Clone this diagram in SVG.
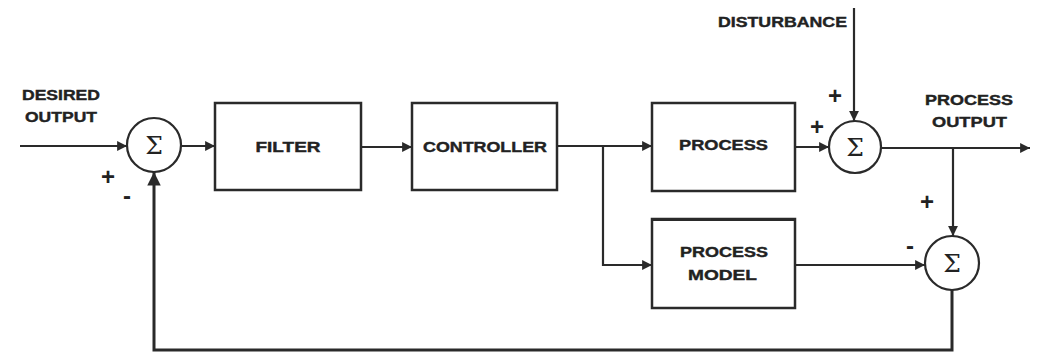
<svg xmlns="http://www.w3.org/2000/svg" width="1043" height="353" viewBox="0 0 1043 353">
<style>
.box{fill:#fff;stroke:#2a2a2a;stroke-width:2.5}
.sum{fill:#fff;stroke:#2a2a2a;stroke-width:2.2}
.wire{fill:none;stroke:#2a2a2a;stroke-width:2.2}
.lbl{font-family:"Liberation Sans",Arial,sans-serif;font-weight:bold;font-size:15px;fill:#222;stroke:#222;stroke-width:0.4}
.sig{font-family:"Liberation Sans",Arial,sans-serif;font-weight:bold;font-size:24px;fill:#222}
.sgm{font-family:"DejaVu Serif","Liberation Serif",serif;font-size:25px;fill:#222}
</style>
<defs>
<marker id="ah" viewBox="0 0 10 10" refX="10" refY="5" markerWidth="4.5" markerHeight="4.5" orient="auto" markerUnits="strokeWidth">
<path d="M0,0 L10,5 L0,10 z" fill="#2a2a2a"/>
</marker>
</defs>
<rect width="1043" height="353" fill="#fff"/>
<g id="connectors">
<line class="wire" x1="20" y1="146" x2="127" y2="146" marker-end="url(#ah)"/>
<line class="wire" x1="181" y1="146" x2="215" y2="146" marker-end="url(#ah)"/>
<line class="wire" x1="361" y1="147" x2="412" y2="147" marker-end="url(#ah)"/>
<line class="wire" x1="557" y1="146" x2="652" y2="146" marker-end="url(#ah)"/>
<polyline class="wire" points="603,146 603,265 652,265" marker-end="url(#ah)"/>
<line class="wire" x1="795" y1="147" x2="829" y2="147" marker-end="url(#ah)"/>
<line class="wire" x1="854" y1="8" x2="854" y2="121" marker-end="url(#ah)"/>
<line class="wire" x1="881" y1="148" x2="1030" y2="148" marker-end="url(#ah)"/>
<line class="wire" x1="953" y1="148" x2="953" y2="236" marker-end="url(#ah)"/>
<line class="wire" x1="795" y1="265" x2="925" y2="265" marker-end="url(#ah)"/>
<polyline class="wire" style="stroke-width:3" points="952,290 952,350 154,350 154,172" marker-end="url(#ah)"/>
</g>
<g id="desired-output"><text class="lbl" x="22" y="100" textLength="78" lengthAdjust="spacingAndGlyphs">DESIRED</text><text class="lbl" x="25" y="122" textLength="72" lengthAdjust="spacingAndGlyphs">OUTPUT</text></g>
<g id="sum1"><circle class="sum" cx="154" cy="145" r="27"/><text class="sgm" x="154" y="154" text-anchor="middle">Σ</text>
<text class="sig" x="108" y="185" text-anchor="middle">+</text><text class="sig" x="127" y="204" text-anchor="middle">-</text></g>
<g id="filter"><rect class="box" x="215" y="103" width="146" height="87"/><text class="lbl" x="288" y="152" text-anchor="middle" textLength="65" lengthAdjust="spacingAndGlyphs">FILTER</text></g>
<g id="controller"><rect class="box" x="412" y="103" width="145" height="87"/><text class="lbl" x="485" y="152" text-anchor="middle" textLength="124" lengthAdjust="spacingAndGlyphs">CONTROLLER</text></g>
<g id="process"><rect class="box" x="652" y="103" width="143" height="88"/><text class="lbl" x="723.5" y="150" text-anchor="middle" textLength="89" lengthAdjust="spacingAndGlyphs">PROCESS</text></g>
<g id="process-model"><rect class="box" x="652" y="219" width="143" height="89"/><line x1="652" y1="220" x2="795" y2="220" stroke="#2a2a2a" stroke-width="2"/><text class="lbl" x="724" y="257" text-anchor="middle" textLength="88" lengthAdjust="spacingAndGlyphs">PROCESS</text><text class="lbl" x="722.5" y="280" text-anchor="middle" textLength="69" lengthAdjust="spacingAndGlyphs">MODEL</text></g>
<g id="disturbance"><text class="lbl" x="718" y="27" textLength="129" lengthAdjust="spacingAndGlyphs">DISTURBANCE</text></g>
<g id="sum2"><circle class="sum" cx="855" cy="147" r="26"/><text class="sgm" x="855" y="156" text-anchor="middle">Σ</text>
<text class="sig" x="835" y="104" text-anchor="middle">+</text><text class="sig" x="817" y="135" text-anchor="middle">+</text></g>
<g id="process-output"><text class="lbl" x="925" y="105" textLength="88" lengthAdjust="spacingAndGlyphs">PROCESS</text><text class="lbl" x="932" y="127" textLength="75" lengthAdjust="spacingAndGlyphs">OUTPUT</text></g>
<g id="sum3"><circle class="sum" cx="952" cy="263" r="27"/><text class="sgm" x="952" y="272" text-anchor="middle">Σ</text>
<text class="sig" x="927" y="210" text-anchor="middle">+</text><text class="sig" x="910" y="254" text-anchor="middle">-</text></g>
</svg>
